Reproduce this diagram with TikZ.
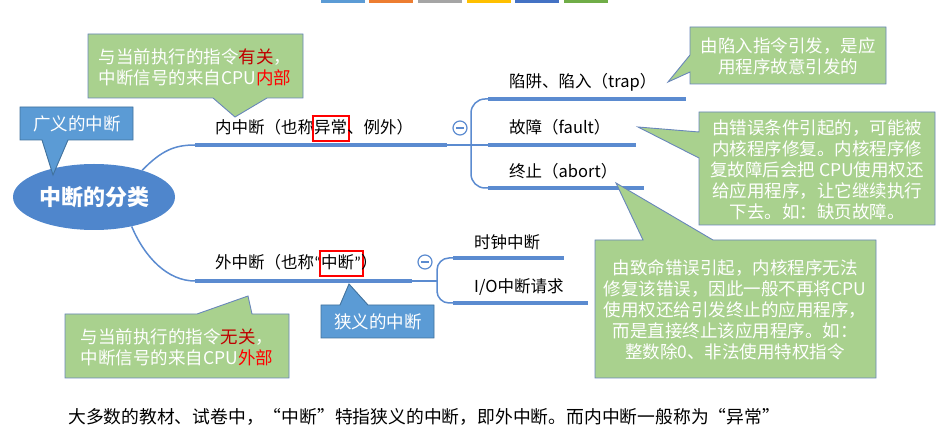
\documentclass[tikz,border=0pt]{standalone}
\usepackage{fontspec}
\setmainfont{Noto Sans CJK SC}
\newfontfamily\lat{Carlito}
\usetikzlibrary{shapes.geometric}
\definecolor{lineblue}{RGB}{91,139,208}
\definecolor{rootblue}{RGB}{79,134,204}
\definecolor{tipblue}{RGB}{91,155,213}
\definecolor{tipedge}{RGB}{65,113,156}
\definecolor{tipgreen}{RGB}{169,209,142}
\definecolor{greenedge}{RGB}{104,134,186}
\definecolor{darkred}{RGB}{192,0,0}
\definecolor{barA}{RGB}{91,155,213}
\definecolor{barB}{RGB}{237,125,49}
\definecolor{barC}{RGB}{165,165,165}
\definecolor{barD}{RGB}{255,192,0}
\definecolor{barE}{RGB}{68,114,196}
\definecolor{barF}{RGB}{112,173,71}
\newcommand\hl[1]{{\setlength\fboxsep{0.5pt}\setlength\fboxrule{2pt}\kern-2.5pt\fcolorbox{red}{white}{\rule[-6pt]{0pt}{22pt}#1}\kern-2.5pt}}

\begin{document}
\begin{tikzpicture}[x=1pt, y=-1pt, link/.style={lineblue, line width=1.5pt}, trunk/.style={lineblue, line width=4.5pt}, lbl/.style={anchor=base west, inner sep=0pt, font=\fontsize{16.5}{20}\selectfont}, gtip/.style={fill=tipgreen, draw=greenedge, line width=0.9pt}, btip/.style={fill=tipblue, draw=tipedge, line width=0.9pt}, say/.style={text=white, align=center, inner sep=0pt, font=\fontsize{17.5}{21}\selectfont}, fold/.style={circle, draw=lineblue, line width=1.2pt, minimum size=14pt, inner sep=0pt, path picture={\draw[lineblue, line width=1.2pt] ([xshift=-4pt]path picture bounding box.center) -- ([xshift=4pt]path picture bounding box.center);}}]
	\useasboundingbox (0,0) rectangle (938,435);
	\foreach \x/\c in {321/barA, 369/barB, 418/barC, 467/barD, 515/barE, 564/barF} {\fill[\c] (\x,0) rectangle ++(44,3.5);}
	\node[ellipse, fill=rootblue, minimum width=162pt, minimum height=66pt, inner sep=0pt, text=white, font=\bfseries\fontsize{22}{26}\selectfont] (root) at (94,197) {中断的分类};
	\coordinate (in0) at (195,145); \coordinate (in1) at (447,145);
	\coordinate (out0) at (195,281); \coordinate (out1) at (412,281);
	\draw[link] (root.29) .. controls (162,150) and (175,145) .. (in0);
	\draw[link] (root.-38) .. controls (145,258) and (168,281) .. (out0);
	\draw[trunk] (in0) -- (in1); \draw[trunk] (out0) -- (out1);
	\foreach \n/\y/\e in {tr/99/686, fa/145/636, ab/188/644} {\coordinate (\n0) at (488,\y); \draw[trunk] (\n0) -- (\e,\y);}
	\foreach \n/\y/\e in {ck/258/564, io/303/588} {\coordinate (\n0) at (453,\y); \draw[trunk] (\n0) -- (\e,\y);}
	\draw[link, rounded corners=14pt] (tr0) -| (471,145) |- (ab0); \draw[link] (in1) -- (fa0);
	\draw[link, rounded corners=12pt] (ck0) -| (437,281) |- (io0); \draw[link] (out1) -- (437,281);
	\node[fold] (m1) at (460,128) {}; \node[fold] (m2) at (425,262) {};
	\node[lbl] (inn) at (215,134) {内中断（也称\hl{异常}、例外）};
	\node[lbl] (outr) at (215,269) {外中断（也称{\lat “}\hl{中断{\lat ”}}）};
	\node[lbl] (trap) at (509,88) {陷阱、陷入（trap）};
	\node[lbl] (fault) at (509,134) {故障（fault）};
	\node[lbl] (abrt) at (509,178) {终止（abort）};
	\node[lbl] (clk) at (474,249) {时钟中断};
	\node[lbl] (io) at (474,293) {I/O中断请求};
	\filldraw[gtip] (88,34) -- (303,34) -- (303,98) -- (267,98) -- (235,117) -- (213,98) -- (88,98) -- cycle;
	\filldraw[gtip] (690,27) -- (886,27) -- (886,84) -- (690,84) -- (690,72) -- (668,82) -- (690,55) -- cycle;
	\filldraw[gtip] (699,112) -- (935,112) -- (935,225) -- (699,225) -- (699,158) -- (638,127) -- (699,132) -- cycle;
	\filldraw[gtip] (595,240) -- (643,240) -- (616,183) -- (713,240) -- (876,240) -- (876,378) -- (595,378) -- cycle;
	\filldraw[btip] (20,107) -- (133,107) -- (133,140) -- (68,140) -- (53,175) -- (42,140) -- (20,140) -- cycle;
	\filldraw[btip] (321,305) -- (340,305) -- (349,284) -- (368,305) -- (434,305) -- (434,338) -- (321,338) -- cycle;
	\filldraw[gtip] (65,314) -- (197,314) -- (248,296) -- (252,314) -- (289,314) -- (289,378) -- (65,378) -- cycle;
	\node[say] (s1) at (195,67) {与当前执行的指令\textcolor{darkred}{有关}，\\中断信号的来自CPU\textcolor{red}{内部}};
	\node[say] (s2) at (788,56) {由陷入指令引发，是应\\用程序故意引发的};
	\node[say] (s3) at (817,170) {由错误条件引起的，可能被\\内核程序修复。内核程序修\\复故障后会把 CPU使用权还\\给应用程序，让它继续执行\\下去。如：缺页故障。};
	\node[say] (s4) at (735,310) {由致命错误引起，内核程序无法\\修复该错误，因此一般不再将CPU\\使用权还给引发终止的应用程序，\\而是直接终止该应用程序。如：\\整数除0、非法使用特权指令};
	\node[say] (s5) at (77,124) {广义的中断};
	\node[say] (s6) at (378,322) {狭义的中断};
	\node[say] (s7) at (177,347) {与当前执行的指令\textcolor{darkred}{无关}，\\中断信号的来自CPU\textcolor{red}{外部}};
	\node[anchor=base west, inner sep=0pt, font=\fontsize{17.8}{22}\selectfont] (note) at (68,424) {大多数的教材、试卷中，“中断”特指狭义的中断，即外中断。而内中断一般称为“异常”};
\end{tikzpicture}
\end{document}
